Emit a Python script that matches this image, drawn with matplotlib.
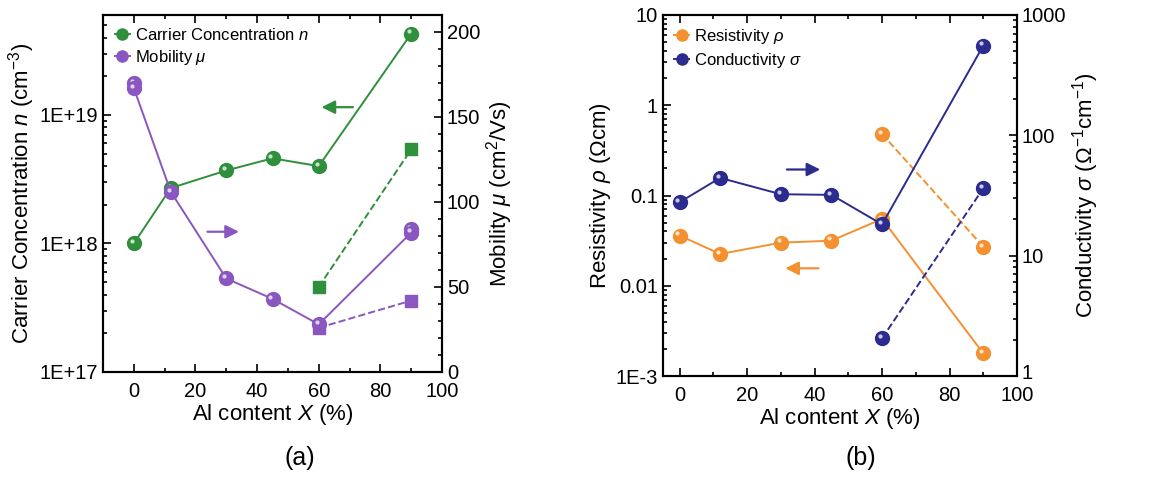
import numpy as np
import matplotlib.pyplot as plt
from matplotlib.ticker import MultipleLocator, LogLocator, FixedLocator, FixedFormatter, NullFormatter
from matplotlib.transforms import ScaledTranslation

plt.rcParams['font.family'] = ['Liberation Sans', 'DejaVu Sans']
plt.rcParams['mathtext.fontset'] = 'custom'
plt.rcParams['mathtext.rm'] = 'Liberation Sans'
plt.rcParams['mathtext.it'] = 'Liberation Sans:italic'

# Al content (%)
x_al = [0, 12, 30, 45, 60, 90]
x_al_dash = [60, 90]

# (a) carrier concentration (cm^-3) and mobility (cm^2/Vs)
n_conc = [1.0e18, 2.7e18, 3.7e18, 4.6e18, 4.0e18, 4.3e19]
n_conc_dash = [4.6e17, 5.4e18]
mob = [167, 106, 55, 43, 28, 82]
mob_extra_x = [0, 90]
mob_extra = [170, 84]
mob_dash = [26, 42]

# (b) resistivity (Ohm cm) and conductivity (1/Ohm cm)
rho = [0.036, 0.0225, 0.030, 0.0316, 0.055, 0.00178]
rho_dash = [0.48, 0.027]
sigma = [27.8, 44.3, 32.4, 32.0, 18.2, 557]
sigma_dash = [2.06, 36.3]

green = '#2f8f3c'
purple = '#8a56bf'
orange = '#f39130'
navy = '#2c2b8e'

TICK_FS = 14.5
LABEL_FS = 16

fig = plt.figure(figsize=(11.56, 4.79), dpi=100)


def ball(ax, x, y, color, ms=10, ls='-', label=None, marker='o', z=3):
    line, = ax.plot(x, y, linestyle=ls, color=color, marker=marker, ms=ms,
                    lw=1.4, mec=color, label=label, zorder=z)
    if marker == 'o':
        # small highlight on the sphere
        off = ScaledTranslation(-1.6 / 72, 1.6 / 72, fig.dpi_scale_trans)
        ax.plot(x, y, 'o', ms=3, color='white', alpha=0.75, mec='none',
                transform=ax.transData + off, zorder=z + 1)
    return line


def style(ax):
    ax.tick_params(direction='in', which='both', labelsize=TICK_FS, width=1.2)
    ax.tick_params(which='major', length=6)
    ax.tick_params(which='minor', length=3)
    ax.tick_params(axis='x', pad=7)
    for s in ax.spines.values():
        s.set_linewidth(1.5)


def lift_bottom_label(ax):
    # nudge the lowest right-hand tick label up, clear of the x tick labels
    fig.canvas.draw()
    lab = ax.yaxis.get_major_ticks()[0].label2
    lab.set_transform(lab.get_transform() + ScaledTranslation(0, 3 / 72, fig.dpi_scale_trans))


# ---------- panel (a) ----------
ax1 = fig.add_axes([0.0891, 0.2234, 0.2933, 0.7453])
ax2 = ax1.twinx()
ax1.set_yscale('log')
ax1.set_xlim(-10, 100)
ax1.set_ylim(1e17, 6e19)
ax2.set_ylim(0, 210)

l1 = ball(ax1, x_al, n_conc, green, label='Carrier Concentration $n$')
ball(ax1, x_al_dash, n_conc_dash, green, ls='--', marker='s', ms=8)
ball(ax2, x_al_dash, mob_dash, purple, ls='--', marker='s', ms=8)
ball(ax2, mob_extra_x, mob_extra, purple, ls='none')
l2 = ball(ax2, x_al, mob, purple, label=r'Mobility $\mu$', z=5)

ax1.set_yticks([1e17, 1e18, 1e19])
ax1.set_yticklabels(['1E+17', '1E+18', '1E+19'])
ax1.yaxis.set_minor_locator(LogLocator(base=10, subs=np.arange(2, 10)))
ax1.yaxis.set_minor_formatter(NullFormatter())
ax1.xaxis.set_major_locator(MultipleLocator(20))
ax1.xaxis.set_minor_locator(MultipleLocator(10))
ax2.yaxis.set_major_locator(MultipleLocator(50))
ax2.yaxis.set_minor_locator(MultipleLocator(10))
ax1.tick_params(top=True, which='both')
style(ax1)
style(ax2)

ax1.set_xlabel('Al content $X$ (%)', fontsize=LABEL_FS, labelpad=1)
ax1.set_ylabel('Carrier Concentration $n$ (cm$^{-3}$)', fontsize=LABEL_FS, labelpad=2)
ax2.set_ylabel(r'Mobility $\mu$ (cm$^2$/Vs)', fontsize=LABEL_FS, labelpad=3)

ax1.annotate('', xy=(60, 1.15e19), xytext=(72, 1.15e19),
             arrowprops=dict(arrowstyle='-|>', color=green, lw=1.6, mutation_scale=20))
ax2.annotate('', xy=(35, 82.5), xytext=(23, 82.5),
             arrowprops=dict(arrowstyle='-|>', color=purple, lw=1.6, mutation_scale=20))

ax1.legend(handles=[l1, l2], loc='upper left', frameon=False, fontsize=12,
           handlelength=0.9, handletextpad=0.3, borderaxespad=0.3,
           labelspacing=0.3, markerscale=0.8)
fig.text(0.259, 0.03, '(a)', fontsize=18, ha='center')

# ---------- panel (b) ----------
ax3 = fig.add_axes([0.5733, 0.215, 0.3065, 0.7537])
ax4 = ax3.twinx()
ax3.set_yscale('log')
ax4.set_yscale('log')
ax3.set_xlim(-5, 100)
ax3.set_ylim(1e-3, 10)
ax4.set_ylim(1, 1000)

l3 = ball(ax3, x_al, rho, orange, label=r'Resistivity $\rho$')
ball(ax3, x_al_dash, rho_dash, orange, ls='--')
l4 = ball(ax4, x_al, sigma, navy, label=r'Conductivity $\sigma$')
ball(ax4, x_al_dash, sigma_dash, navy, ls='--')

ax3.yaxis.set_major_locator(FixedLocator([1e-3, 1e-2, 1e-1, 1, 10]))
ax3.yaxis.set_major_formatter(FixedFormatter(['1E-3', '0.01', '0.1', '1', '10']))
ax3.yaxis.set_minor_locator(LogLocator(base=10, subs=np.arange(2, 10)))
ax3.yaxis.set_minor_formatter(NullFormatter())
ax4.yaxis.set_major_locator(FixedLocator([1, 10, 100, 1000]))
ax4.yaxis.set_major_formatter(FixedFormatter(['1', '10', '100', '1000']))
ax4.yaxis.set_minor_locator(LogLocator(base=10, subs=np.arange(2, 10)))
ax4.yaxis.set_minor_formatter(NullFormatter())
ax3.xaxis.set_major_locator(MultipleLocator(20))
ax3.xaxis.set_minor_locator(MultipleLocator(10))
ax3.tick_params(top=True, which='both')
style(ax3)
style(ax4)

ax3.set_xlabel('Al content $X$ (%)', fontsize=LABEL_FS, labelpad=1)
ax3.set_ylabel(r'Resistivity $\rho$ ($\Omega$cm)', fontsize=LABEL_FS, labelpad=2)
ax4.set_ylabel(r'Conductivity $\sigma$ ($\Omega^{-1}$cm$^{-1}$)', fontsize=LABEL_FS, labelpad=3)

ax4.annotate('', xy=(42.5, 52), xytext=(31, 52),
             arrowprops=dict(arrowstyle='-|>', color=navy, lw=1.6, mutation_scale=20))
ax3.annotate('', xy=(30.5, 0.0156), xytext=(42, 0.0156),
             arrowprops=dict(arrowstyle='-|>', color=orange, lw=1.6, mutation_scale=20))

ax3.legend(handles=[l3, l4], loc='upper left', frameon=False, fontsize=12,
           handlelength=0.9, handletextpad=0.3, borderaxespad=0.3,
           labelspacing=0.3, markerscale=0.8)
fig.text(0.745, 0.03, '(b)', fontsize=18, ha='center')

lift_bottom_label(ax2)
lift_bottom_label(ax4)

fig.savefig('out.png', dpi=100)
